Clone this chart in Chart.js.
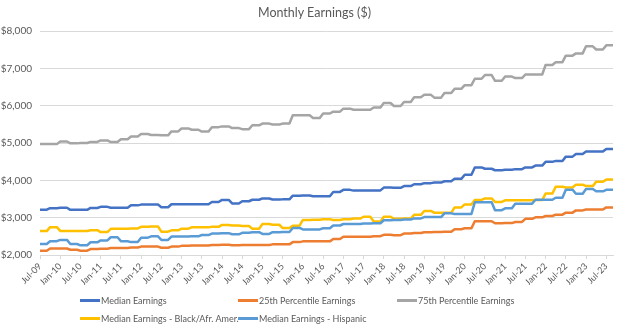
<!DOCTYPE html>
<html>
<head>
<meta charset="utf-8">
<title>Monthly Earnings</title>
<script src="https://cdn.jsdelivr.net/npm/chart.js@4.4.0/dist/chart.umd.min.js"></script>
<style>
  html, body { margin: 0; padding: 0; background: #fff; }
  #wrap { position: relative; width: 629px; height: 330px; font-family: Lato, "Open Sans", sans-serif; color: #595959; }
  #title { position: absolute; left: 0; top: 4px; width: 629px; text-align: center; font-size: 12.5px; line-height: 17px; }
  #legend { position: absolute; left: 0; top: 0; width: 629px; height: 330px; pointer-events: none; font-size: 9px; }
  .item { position: absolute; display: flex; align-items: center; height: 14px; white-space: nowrap; }
  .swatch { width: 20px; height: 3px; margin-right: 1px; }
</style>
</head>
<body>
<div id="wrap">
  <canvas id="earnings" width="629" height="330"></canvas>
  <div id="title">Monthly Earnings ($)</div>
  <div id="legend"></div>
</div>
<script>
// Quarterly figures, Q3 2009 through Q3 2023 (monthly dollars)
const medianEarnings = [
  3215, 3255, 3265, 3210, 3210, 3260, 3290, 3265, 3265, 3330,
  3350, 3350, 3280, 3360, 3360, 3360, 3360, 3420, 3475, 3380,
  3440, 3480, 3515, 3485, 3490, 3590, 3595, 3575, 3575, 3690,
  3745, 3725, 3725, 3730, 3805, 3800, 3845, 3895, 3925, 3940,
  3975, 4040, 4150, 4345, 4310, 4270, 4285, 4300, 4345, 4395,
  4495, 4520, 4635, 4705, 4770, 4770, 4840
];
const p25Earnings = [
  2115, 2175, 2175, 2140, 2115, 2160, 2165, 2185, 2185, 2200,
  2225, 2225, 2195, 2225, 2245, 2255, 2255, 2270, 2275, 2260,
  2265, 2270, 2270, 2285, 2285, 2345, 2365, 2365, 2365, 2430,
  2490, 2490, 2490, 2505, 2540, 2530, 2575, 2590, 2610, 2615,
  2620, 2690, 2715, 2905, 2905, 2850, 2855, 2885, 2970, 3010,
  3045, 3080, 3135, 3195, 3220, 3220, 3275
];
const p75Earnings = [
  4970, 4970, 5040, 4990, 5000, 5030, 5070, 5025, 5100, 5175,
  5240, 5215, 5205, 5310, 5390, 5355, 5305, 5425, 5445, 5400,
  5370, 5475, 5520, 5495, 5520, 5745, 5745, 5670, 5790, 5840,
  5920, 5890, 5890, 5950, 6070, 5990, 6100, 6225, 6290, 6215,
  6340, 6450, 6550, 6720, 6820, 6665, 6780, 6740, 6835, 6835,
  7090, 7165, 7340, 7400, 7590, 7505, 7615
];
const blackEarnings = [
  2640, 2745, 2645, 2645, 2645, 2665, 2615, 2700, 2705, 2710,
  2755, 2765, 2625, 2660, 2705, 2740, 2740, 2755, 2805, 2790,
  2775, 2705, 2830, 2810, 2720, 2785, 2940, 2945, 2955, 2940,
  2960, 2975, 3025, 2900, 3025, 2970, 2975, 3075, 3180, 3130,
  3130, 3275, 3355, 3475, 3515, 3420, 3465, 3465, 3465, 3470,
  3645, 3830, 3810, 3885, 3845, 3960, 4020
];
const hispanicEarnings = [
  2295, 2370, 2405, 2295, 2260, 2340, 2390, 2475, 2370, 2345,
  2465, 2500, 2405, 2495, 2495, 2500, 2535, 2575, 2585, 2555,
  2595, 2610, 2565, 2610, 2615, 2725, 2685, 2685, 2715, 2790,
  2830, 2830, 2845, 2850, 2930, 2935, 2950, 2980, 3015, 3015,
  3115, 3100, 3100, 3410, 3410, 3200, 3250, 3375, 3375, 3480,
  3480, 3535, 3750, 3640, 3770, 3705, 3745
];
const seriesNames = [
  'Median Earnings',
  '25th Percentile Earnings',
  '75th Percentile Earnings',
  'Median Earnings - Black/Afr. Amer.',
  'Median Earnings - Hispanic'
];
const seriesColors = ['#4472C4', '#ED7D31', '#A5A5A5', '#FFC000', '#5B9BD5'];
const yTicks = [2000, 3000, 4000, 5000, 6000, 7000, 8000];
const monthNames = ['Jan', 'Feb', 'Mar', 'Apr', 'May', 'Jun', 'Jul', 'Aug', 'Sep', 'Oct', 'Nov', 'Dec'];

// each quarterly figure is reported for all three months of its quarter
const monthly = q => q.flatMap(v => [v, v, v]);

const months = [];
for (let i = 0; i < medianEarnings.length * 3; i++) {
    const k = 6 + i; // series starts in July 2009
    months.push(monthNames[k % 12] + '-' + String(9 + Math.floor(k / 12)).padStart(2, '0'));
}

const allSeries = [medianEarnings, p25Earnings, p75Earnings, blackEarnings, hispanicEarnings];
const datasets = allSeries.map((q, i) => ({
    label: seriesNames[i],
    data: monthly(q),
    borderColor: seriesColors[i],
    backgroundColor: seriesColors[i],
    borderWidth: 2.5,
    pointRadius: 0,
    tension: 0,
    borderJoinStyle: 'round',
    order: allSeries.length - i // later series sit on top
}));

const axisGrey = '#d9d9d9';
const textGrey = '#595959';
const font = 'Lato, "Open Sans", sans-serif';

new Chart(document.getElementById('earnings'), {
    type: 'line',
    data: { labels: months, datasets: datasets },
    options: {
        responsive: false,
        animation: false,
        layout: { padding: { left: 0, right: 16, top: 31, bottom: 45 } },
        plugins: {
            legend: { display: false },
            tooltip: { enabled: false },
            title: { display: false }
        },
        scales: {
            x: {
                offset: false,
                afterFit: s => { s.height = 30; },
                border: { display: true, color: axisGrey },
                grid: {
                    drawOnChartArea: false,
                    tickLength: 4,
                    color: c => (c.index % 6 === 0 ? axisGrey : 'rgba(0,0,0,0)')
                },
                ticks: {
                    autoSkip: false,
                    minRotation: 45,
                    maxRotation: 45,
                    padding: 2,
                    color: textGrey,
                    font: { family: font, size: 9 },
                    callback: function (v, i) { return i % 6 === 0 ? this.getLabelForValue(v) : ''; }
                }
            },
            y: {
                min: yTicks[0],
                max: yTicks[yTicks.length - 1],
                afterFit: s => { s.width = 40; },
                afterBuildTicks: s => { s.ticks = yTicks.map(v => ({ value: v })); },
                border: { display: false },
                grid: { color: axisGrey, drawTicks: false },
                ticks: {
                    padding: 8,
                    color: textGrey,
                    font: { family: font, size: 10 },
                    callback: v => '$' + v.toLocaleString('en-US')
                }
            }
        }
    }
});

// legend laid out in three columns, two rows
const legendSlots = [[80, 300], [238, 300], [397, 300], [80, 318], [238, 318]];
const legend = document.getElementById('legend');
datasets.forEach((d, i) => {
    const item = document.createElement('div');
    item.className = 'item';
    item.style.left = legendSlots[i][0] + 'px';
    item.style.top = (legendSlots[i][1] - 7) + 'px';
    const sw = document.createElement('span');
    sw.className = 'swatch';
    sw.style.background = d.borderColor;
    const txt = document.createElement('span');
    txt.textContent = d.label;
    item.appendChild(sw);
    item.appendChild(txt);
    legend.appendChild(item);
});
</script>
</body>
</html>
